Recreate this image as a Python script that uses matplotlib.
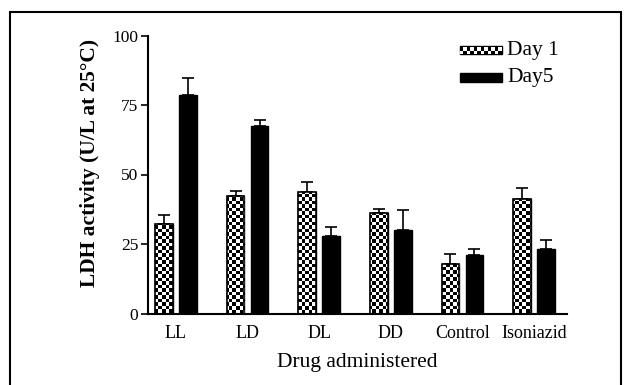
import numpy as np
import matplotlib
matplotlib.use("Agg")
import matplotlib.pyplot as plt
from matplotlib.patches import Rectangle

categories = ["LL", "LD", "DL", "DD", "Control", "Isoniazid"]
day1 = [32.2, 42.4, 43.8, 36.2, 17.7, 41.2]
day1_err = [3.2, 1.8, 3.4, 1.4, 3.6, 3.8]
day5 = [78.6, 67.4, 27.9, 30.2, 21.2, 23.3]
day5_err = [6.0, 2.2, 3.1, 6.9, 2.0, 3.2]
yticks = [0, 25, 50, 75, 100]
series_labels = ["Day 1", "Day5"]

plt.rcParams['font.family'] = ['Liberation Serif', 'DejaVu Serif']

W, H = 627, 385
fig = plt.figure(figsize=(W / 100, H / 100), dpi=100)
ax_l, ax_r, ax_b, ax_t = 148, 567, 313.5, 35.5
ax = fig.add_axes([ax_l / W, 1 - ax_b / H, (ax_r - ax_l) / W, (ax_b - ax_t) / H])

xlim = (-0.39, 5.46)
ylim = (0, 100)
x = np.arange(len(categories))
off, width = 0.168, 0.245

b1 = ax.bar(x - off, day1, width, facecolor='white', edgecolor='black', linewidth=1.0, zorder=2)
b5 = ax.bar(x + off, day5, width, facecolor='black', edgecolor='black', linewidth=1.0, zorder=2)

ax.errorbar(x - off, day1, yerr=[np.zeros(len(day1)), day1_err], fmt='none',
            ecolor='black', elinewidth=1.2, capsize=4, capthick=1.2, zorder=1)
ax.errorbar(x + off, day5, yerr=[np.zeros(len(day5)), day5_err], fmt='none',
            ecolor='black', elinewidth=1.2, capsize=4, capthick=1.2, zorder=1)

# checkerboard texture
cell = 3.5
nx = int((ax_r - ax_l) / cell) + 1
ny = int((ax_b - ax_t) / cell) + 1
checker = (np.add.outer(np.arange(ny), np.arange(nx)) % 2).astype(float)
ext = [xlim[0], xlim[0] + nx * cell / (ax_r - ax_l) * (xlim[1] - xlim[0]),
       ylim[0], ylim[0] + ny * cell / (ax_b - ax_t) * (ylim[1] - ylim[0])]

def checker_fill(patch, z):
    im = ax.imshow(checker, extent=ext, origin='lower', cmap='gray', vmin=0, vmax=1,
                   interpolation='nearest', aspect='auto', zorder=z)
    im.set_clip_path(patch)

for p in b1:
    checker_fill(p, 2.1)
    ax.add_patch(Rectangle(p.get_xy(), p.get_width(), p.get_height(), facecolor='none',
                           edgecolor='black', linewidth=1.2, zorder=2.2))

ax.set_xlim(*xlim)
ax.set_ylim(*ylim)
ax.set_yticks(yticks)
ax.set_yticklabels([str(t) for t in yticks], fontsize=12.5)
ax.set_xticks(x)
ax.set_xticklabels(categories, fontsize=13)
ax.tick_params(axis='x', length=0, pad=8)
ax.tick_params(axis='y', length=5, width=1.2, pad=2)
for s in ['top', 'right']:
    ax.spines[s].set_visible(False)
ax.spines['left'].set_linewidth(1.5)
ax.spines['bottom'].set_linewidth(1.5)

ax.set_ylabel("LDH activity (U/L at 25°C)", fontsize=15.5, fontweight='bold')
ax.yaxis.set_label_coords(-0.115, 0.54)
ax.set_xlabel("Drug administered", fontsize=15.5, labelpad=8)

# legend (manual)
def to_axes(px, py):
    return (px - ax_l) / (ax_r - ax_l), (ax_b - py) / (ax_b - ax_t)

lx0, _ = to_axes(460, 0)
lx1, _ = to_axes(502, 0)
_, ly1a = to_axes(0, 46.5)
_, ly0a = to_axes(0, 54)
r1 = Rectangle((lx0, ly0a), lx1 - lx0, ly1a - ly0a, transform=ax.transAxes,
               facecolor='white', edgecolor='black', linewidth=1.0, clip_on=False, zorder=3)
ax.add_patch(r1)
checker_fill(r1, 3.1)
ax.set_xlim(*xlim)
ax.set_ylim(*ylim)
_, ly1b = to_axes(0, 72.5)
_, ly0b = to_axes(0, 82)
ax.add_patch(Rectangle((lx0, ly0b), lx1 - lx0, ly1b - ly0b, transform=ax.transAxes,
                       facecolor='black', edgecolor='black', linewidth=1.0, clip_on=False, zorder=3))
tx, _ = to_axes(507, 0)
ax.text(tx, (ly0a + ly1a) / 2, series_labels[0], transform=ax.transAxes, fontsize=15.5,
        va='center', ha='left')
ax.text(tx, (ly0b + ly1b) / 2, series_labels[1], transform=ax.transAxes, fontsize=15.5,
        va='center', ha='left')

# outer frame
fig.add_artist(Rectangle((10 / W, -0.01), (621 - 10) / W, 1.01 - 12 / H, transform=fig.transFigure,
                         facecolor='none', edgecolor='black', linewidth=1.5))

fig.savefig("out.png", dpi=100)
